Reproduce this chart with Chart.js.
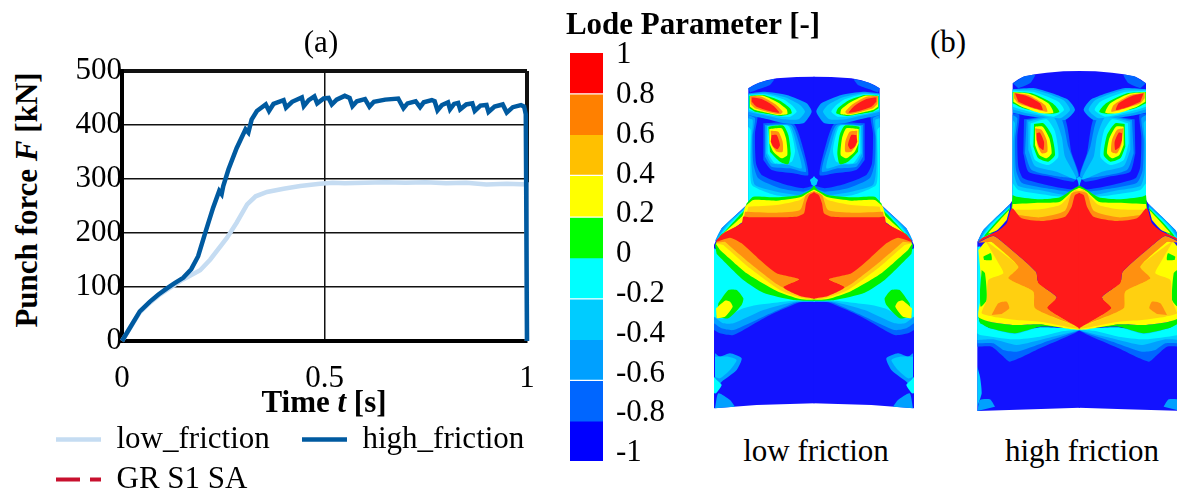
<!DOCTYPE html>
<html>
<head>
<meta charset="utf-8">
<script src="https://cdn.jsdelivr.net/npm/chart.js@4"></script>
<style>
  html, body { margin: 0; padding: 0; background: #fff; overflow: hidden; }
  body { width: 1177px; height: 493px; position: relative; font-family: "Liberation Serif", serif; color: #000; }
  canvas { position: absolute; }
  .txt { position: absolute; white-space: nowrap; font-size: 31px; line-height: 34px; transform: translate(-50%, -50%); }
  .bold { font-weight: bold; }
  #yTitle { transform: translate(-50%, -50%) rotate(-90deg); }
</style>
</head>
<body>
<canvas id="forceChart" width="510" height="450" style="left:47px;top:55px"></canvas>
<canvas id="barChart" width="113" height="435" style="left:570px;top:40px"></canvas>
<canvas id="lowChart" width="230" height="360" style="left:700px;top:60px"></canvas>
<canvas id="highChart" width="217" height="360" style="left:960px;top:60px"></canvas>
<div class="txt" style="left:321px;top:42px">(a)</div>
<div class="txt" style="left:948px;top:42px">(b)</div>
<div class="txt bold" style="left:693px;top:24px">Lode Parameter [-]</div>
<div class="txt" style="left:816px;top:451px">low friction</div>
<div class="txt" style="left:1082px;top:451px">high friction</div>
<div class="txt bold" style="left:324px;top:402px">Time <i>t</i> [s]</div>
<div class="txt bold" id="yTitle" style="left:27px;top:200px">Punch force <i>F</i> [kN]</div>
<script>
// force curves
const timeHigh = [0, .02, .044, .069, .09, .11, .13, .151, .171, .188, .207, .225, .24, .246, .25, .263, .283, .305, .312, .32, .333, .355, .363, .374, .399, .405, .42, .444, .449, .461, .475, .482, .498, .51, .518, .53, .55, .562, .569, .58, .6, .611, .622, .65, .682, .695, .705, .725, .736, .745, .765, .772, .779, .79, .805, .81, .82, .83, .835, .85, .865, .871, .885, .9, .905, .92, .94, .95, .965, .985, .993, .997, 1];
const forceHigh = [0, 25, 55, 73, 86, 97, 107, 117, 133, 157, 204, 247, 278, 272, 287, 318, 357, 392, 386, 410, 426, 438, 426, 439, 446, 432, 443, 451, 435, 446, 453, 440, 449, 450, 438, 447, 454, 450, 435, 444, 448, 434, 443, 447, 449, 431, 440, 444, 433, 442, 446, 444, 427, 437, 442, 429, 439, 441, 429, 438, 440, 426, 436, 437, 424, 434, 438, 423, 433, 437, 434, 420, 0];
const timeLow = [0, .02, .044, .069, .09, .11, .13, .151, .193, .218, .259, .283, .309, .33, .358, .399, .44, .489, .52, .55, .6, .65, .7, .75, .8, .85, .9, .95, .999, 1];
const forceLow = [0, 24, 53, 71, 84, 94, 104, 114, 131, 151, 191, 219, 253, 268, 276, 282, 287, 291, 293, 292, 293, 294, 293, 294, 292, 293, 290, 291, 290, 0];
const seriesNames = ["low_friction", "high_friction", "GR S1 SA"];
const xTicks = [0, 0.5, 1];
const yTicks = [0, 100, 200, 300, 400, 500];

// colour bar
const barTicks = [1, 0.8, 0.6, 0.4, 0.2, 0, -0.2, -0.4, -0.6, -0.8, -1];
const barTop = [1.01, 0.8, 0.6, 0.39, 0.18, -0.02, -0.23, -0.43, -0.64, -0.84];
const barBottom = [0.81, 0.6, 0.4, 0.19, -0.02, -0.22, -0.43, -0.63, -0.84, -1.04];
const barColors = ["#ff0000", "#ff8000", "#ffc000", "#ffff00", "#00ff00", "#00ffff", "#00ccff", "#00a0ff", "#0066ff", "#0000ff"];
const fieldColors = ["#1212ff", "#0066ff", "#00a0ff", "#00ccff", "#00ffff", "#00f000", "#ffff00", "#00f000", "#ffd010", "#ff9010", "#ff1a1a"];

// contour regions: left half of each specimen, the other half is the same list on a reversed axis
const lowBase = [[[145,85],[160,76],[175,69],[200,61],[230,55],[290,51],[344,50],[344,1030],[170,1035],[42,1045],[42,555],[65,505],[145,430]]];
const lowBlue2 = [
  [[145,160],[172,168],[165,220],[168,310],[185,345],[250,372],[310,385],[344,378],[344,410],[145,430]],
  [[190,190],[280,190],[305,250],[325,345],[280,340],[215,330],[190,300]],
  [[42,600],[344,725],[300,727],[200,770],[100,825],[60,820],[42,810]],
  [[145,85],[175,69],[222,58],[210,75],[175,88],[150,98]]
];
const lowMid = [
  [[145,100],[195,95],[260,105],[320,130],[335,155],[310,190],[255,190],[190,175],[145,165]],
  [[145,165],[165,175],[158,230],[160,310],[175,355],[240,385],[310,395],[344,385],[344,410],[145,432]],
  [[195,195],[275,195],[300,260],[318,335],[270,325],[215,320],[195,290]],
  [[42,600],[344,722],[290,727],[190,770],[100,810],[65,805],[42,790]],
  [[45,880],[60,890],[90,880],[125,895],[110,930],[65,965],[55,975],[45,960]],
  [[45,1045],[55,1000],[90,1020],[105,1040]],
  [[145,432],[65,505],[45,545],[70,520],[125,480],[140,450]]
];
const lowSky = [
  [[145,103],[195,100],[255,112],[300,135],[315,155],[295,178],[250,178],[190,165],[145,155]],
  [[145,175],[158,180],[155,240],[155,320],[165,375],[230,395],[300,405],[344,392],[344,415],[145,432]],
  [[200,198],[270,198],[293,270],[305,325],[265,315],[215,310],[198,280]],
  [[42,590],[344,722],[285,725],[190,750],[100,790],[70,790],[42,770]],
  [[45,890],[85,890],[110,900],[90,930],[60,955],[45,950]],
  [[330,360],[344,350],[344,378],[335,375]],
  [[143,436],[78,497],[50,540],[72,520],[125,482],[142,450]]
];
const lowCyan = [
  [[147,105],[195,103],[250,118],[280,140],[290,155],[270,170],[225,168],[180,160],[147,150]],
  [[145,200],[152,210],[151,300],[156,375],[225,405],[300,412],[335,395],[344,385],[344,415],[145,435]],
  [[203,198],[265,198],[285,270],[275,305],[225,310],[203,280]],
  [[42,565],[344,720],[280,722],[170,735],[130,745],[70,775],[42,770]],
  [[42,950],[50,960],[65,975],[48,1000],[42,1000]],
  [[142,440],[90,490],[55,535],[72,522],[127,482],[142,450]]
];
const lowGreen = [
  [[148,107],[190,105],[240,122],[270,145],[275,160],[245,168],[205,162],[165,155],[148,145]],
  [[140,430],[160,410],[230,412],[300,405],[330,390],[344,378],[344,480],[125,480]],
  [[205,200],[250,197],[265,225],[272,280],[265,312],[240,305],[210,275]],
  [[45,555],[70,520],[300,640],[344,716],[344,722],[280,720],[190,698],[130,660],[50,582]],
  [[55,730],[85,690],[110,690],[130,715],[125,735],[85,775],[50,770]],
  [[140,445],[115,470],[60,530],[72,522],[127,484],[145,455]]
];
const lowYellow = [
  [[150,108],[190,107],[235,128],[260,148],[262,162],[235,165],[200,158],[165,150],[150,140]],
  [[135,440],[160,420],[230,422],[300,412],[330,395],[344,390],[344,480],[125,480]],
  [[208,207],[245,205],[258,235],[262,285],[245,295],[220,275],[208,250]],
  [[48,552],[75,520],[300,640],[344,716],[300,717],[230,693],[140,640],[60,570]],
  [[48,745],[75,722],[90,725],[98,740],[75,770],[50,775]],
  [[140,452],[125,470],[65,526],[125,488],[148,465]]
];
const lowAmber = [
  [[145,440],[230,435],[300,420],[325,400],[344,395],[344,480],[135,480]],
  [[48,550],[80,520],[300,640],[344,716],[310,715],[240,690],[150,625],[70,555]]
];
const lowOrange = [
  [[150,108],[185,110],[225,132],[248,155],[240,163],[200,155],[165,145],[152,132]],
  [[135,455],[230,458],[300,450],[318,405],[344,395],[344,480],[130,480]],
  [[212,212],[235,215],[248,245],[248,275],[230,275],[215,255]],
  [[48,548],[90,520],[300,640],[297,658],[250,682],[300,708],[230,672],[150,610],[75,545]]
];
const lowRed = [
  [[155,112],[185,117],[220,137],[238,158],[205,152],[170,140],[155,125]],
  [[215,225],[230,225],[240,255],[232,268],[220,260],[212,245]],
  [[344,397],[328,405],[318,430],[312,460],[290,470],[150,472],[130,470],[125,490],[70,520],[48,545],[90,533],[125,550],[180,600],[230,640],[297,658],[250,682],[300,708],[344,716]]
];

const highBase = [[[158,70],[175,58],[190,50],[225,43],[260,38],[310,34],[360,33],[360,1043],[220,1048],[52,1053],[52,545],[70,510],[150,432],[158,420]]];
const highBlue2 = [
  [[158,160],[178,165],[172,230],[175,320],[190,355],[260,375],[330,388],[360,385],[360,410],[158,425]],
  [[192,178],[310,168],[335,280],[357,345],[340,365],[270,350],[205,335],[190,280]],
  [[52,810],[360,808],[240,865],[150,905],[125,885],[95,860],[52,860]],
  [[158,70],[190,50],[225,45],[210,70],[175,85]]
];
const highMid = [
  [[158,88],[225,85],[322,118],[345,150],[315,180],[205,168],[158,158]],
  [[158,165],[172,175],[165,240],[168,330],[185,368],[260,385],[330,395],[360,390],[360,410],[158,425]],
  [[200,180],[300,170],[325,260],[355,350],[300,350],[215,330],[195,280]],
  [[52,810],[360,808],[250,848],[170,875],[130,870],[100,850],[52,850]],
  [[52,1053],[60,1020],[90,1018],[105,1040]],
  [[150,432],[70,510],[54,545],[80,530],[130,480],[150,445]]
];
const highSky = [
  [[158,90],[225,90],[310,120],[330,150],[300,175],[200,160],[158,148]],
  [[158,180],[165,190],[160,250],[162,340],[175,378],[250,392],[320,405],[360,390],[360,412],[158,425]],
  [[205,185],[280,172],[305,230],[315,290],[350,358],[290,335],[225,318],[205,270]],
  [[52,805],[360,808],[260,835],[170,855],[100,838],[52,840]],
  [[52,920],[60,950],[65,1000],[52,1040]],
  [[350,355],[360,350],[360,380]],
  [[148,440],[85,498],[60,540],[80,530],[130,480],[150,445]]
];
const highCyan = [
  [[158,92],[222,96],[295,125],[312,150],[280,170],[190,150],[158,140]],
  [[158,370],[175,390],[245,403],[310,410],[340,390],[360,385],[360,412],[158,425]],
  [[212,190],[260,178],[285,215],[295,290],[265,315],[225,300],[210,250]],
  [[52,780],[90,805],[165,822],[240,802],[360,808],[300,815],[240,830],[160,838],[60,825],[52,820]],
  [[52,560],[62,560],[62,750],[55,800],[52,810]],
  [[146,445],[95,492],[65,535],[85,528],[130,482],[150,445]]
];
const highGreen = [
  [[158,96],[215,100],[278,130],[298,155],[270,162],[190,145],[158,130]],
  [[158,405],[170,410],[240,418],[300,412],[335,390],[360,378],[360,490],[150,490]],
  [[222,192],[250,190],[275,225],[285,285],[265,305],[235,295],[220,260]],
  [[55,770],[90,785],[165,795],[240,793],[360,806],[240,800],[165,820],[90,805],[60,790]],
  [[148,445],[105,490],[72,530],[110,510],[135,480],[150,445]]
];
const highYellow = [
  [[160,97],[210,102],[265,130],[280,158],[245,160],[185,140],[160,125]],
  [[158,432],[240,428],[300,425],[335,395],[360,385],[360,490],[150,490]],
  [[225,200],[248,200],[268,235],[275,280],[260,295],[238,285],[225,255]],
  [[55,570],[85,540],[180,610],[360,806],[240,793],[165,795],[90,785],[55,770],[65,700],[60,620]],
  [[148,450],[120,480],[85,520],[112,510],[140,480]]
];
const highGreenSpots = [
  [[70,590],[92,580],[95,600],[72,600]],
  [[65,630],[75,640],[80,720],[62,740],[60,690]]
];
const highAmber = [
  [[160,450],[240,448],[300,435],[325,410],[345,390],[360,395],[360,490],[175,485]],
  [[75,540],[175,620],[145,655],[220,695],[225,745],[360,806],[240,785],[170,780],[100,770],[65,760],[80,720],[85,660],[130,640],[110,600]]
];
const highOrange = [
  [[162,98],[205,105],[255,135],[262,155],[235,150],[175,130],[162,115]],
  [[175,465],[240,472],[315,452],[335,400],[360,395],[360,490],[190,482]],
  [[225,205],[245,210],[260,240],[262,275],[245,280],[232,255]],
  [[55,548],[100,528],[130,548],[228,635],[235,670],[290,712],[262,745],[360,806],[340,795],[225,745],[220,695],[145,655],[175,620],[95,545]],
  [[95,765],[115,730],[140,725],[148,745],[125,762]]
];
const highRed = [
  [[165,100],[200,108],[240,130],[248,150],[215,142],[175,125]],
  [[230,220],[240,218],[252,245],[250,270],[238,262],[230,240]],
  [[360,398],[345,405],[335,440],[315,470],[245,483],[185,475],[158,445],[152,450],[140,490],[115,512],[70,532],[55,545],[100,527],[130,548],[228,635],[235,670],[290,712],[262,745],[360,806]]
];

const lowLevels = [lowBase, lowBlue2, lowMid, lowSky, lowCyan, lowGreen, lowYellow, [], lowAmber, lowOrange, lowRed];
const highLevels = [highBase, highBlue2, highMid, highSky, highCyan, highGreen, highYellow, highGreenSpots, highAmber, highOrange, highRed];

const serif = "'Liberation Serif', serif";
Chart.defaults.animation = false;
Chart.defaults.responsive = false;
Chart.defaults.devicePixelRatio = 1;
Chart.defaults.color = "#000";

function pairs(xs, ys) {
  return xs.map((x, i) => ({ x: x, y: ys[i] }));
}

new Chart(document.getElementById("forceChart"), {
  type: "scatter",
  data: {
    datasets: [
      { label: seriesNames[0], data: pairs(timeLow, forceLow), showLine: true, borderColor: "#c5dcf2", borderWidth: 4.5, pointRadius: 0, order: 1, clip: false },
      { label: seriesNames[1], data: pairs(timeHigh, forceHigh), showLine: true, borderColor: "#005aa0", borderWidth: 4.5, pointRadius: 0, order: 0, clip: false },
      { label: seriesNames[2], data: [], showLine: true, borderColor: "#c8102e", borderWidth: 4, borderDash: [24, 10], pointRadius: 0 }
    ]
  },
  options: {
    layout: { padding: { top: 16 } },
    plugins: {
      tooltip: { enabled: false },
      legend: {
        position: "bottom",
        align: "start",
        labels: {
          font: { family: serif, size: 31 },
          padding: 9,
          usePointStyle: true,
          pointStyleWidth: 45,
          generateLabels(chart) {
            return chart.data.datasets.map((d, i) => ({
              // extra gap after the first entry, same as the reference row
              text: i === 0 ? d.label + "\u2002\u2005" : d.label,
              strokeStyle: d.borderColor,
              fillStyle: d.borderColor,
              lineWidth: d.borderWidth,
              lineDash: d.borderDash,
              pointStyle: "line",
              datasetIndex: i
            }));
          }
        }
      }
    },
    scales: {
      x: {
        type: "linear", min: 0, max: 1,
        afterBuildTicks(s) { s.ticks = xTicks.map(v => ({ value: v })); },
        afterFit(s) { s.height = 74; s.paddingLeft = 0; s.paddingRight = 0; },
        border: { width: 4, color: "#000" },
        grid: { drawTicks: false, color: "#111", lineWidth: c => (c.tick && c.tick.value === 1 ? 4 : 1.5) },
        ticks: { font: { family: serif, size: 31 }, padding: 19, maxRotation: 0, callback: v => String(v) }
      },
      y: {
        min: 0, max: 500,
        afterBuildTicks(s) { s.ticks = yTicks.map(v => ({ value: v })); },
        afterFit(s) { s.width = 75; s.paddingTop = 0; s.paddingBottom = 0; },
        border: { width: 4, color: "#000" },
        grid: { drawTicks: false, color: "#111", lineWidth: c => (c.tick && c.tick.value === 500 ? 4 : 1.5) },
        ticks: { font: { family: serif, size: 31 }, padding: 0, callback: v => String(v) }
      },
      // blank axis that keeps the plot clear of the right edge while the legend keeps the full width
      spare: {
        position: "right",
        afterFit(s) { s.width = 30; s.paddingTop = 0; s.paddingBottom = 0; },
        border: { display: false },
        grid: { display: false },
        ticks: { display: false }
      }
    }
  }
});

new Chart(document.getElementById("barChart"), {
  type: "bar",
  data: {
    labels: [""],
    datasets: barTop.map((t, i) => ({
      data: [[barBottom[i], t]],
      backgroundColor: barColors[i],
      grouped: false,
      barPercentage: 1,
      categoryPercentage: 1
    }))
  },
  options: {
    layout: { padding: { top: 13, bottom: 14 } },
    plugins: { legend: { display: false }, tooltip: { enabled: false } },
    scales: {
      x: { display: false },
      y: {
        position: "right",
        min: -1.04, max: 1.01,
        afterBuildTicks(s) { s.ticks = barTicks.map(v => ({ value: v })); },
        afterFit(s) { s.width = 80; s.paddingTop = 0; s.paddingBottom = 0; },
        border: { display: false },
        grid: { display: false, drawTicks: false },
        ticks: { font: { family: serif, size: 31 }, padding: 13, autoSkip: false, callback: v => String(v) }
      }
    }
  }
});

// one specimen: every region twice, plain axis for the left half, reversed axis for the right
function drawField(id, levels, width, height, centre) {
  const datasets = [];
  levels.forEach((regions, level) => {
    regions.forEach(region => {
      ["x", "xr"].forEach(axis => {
        datasets.push({
          data: region.map(p => ({ x: p[0], y: p[1] })),
          xAxisID: axis,
          showLine: true,
          fill: "shape",
          backgroundColor: fieldColors[level],
          tension: level === 0 ? 0 : 0.2,
          borderWidth: 0,
          pointRadius: 0
        });
      });
    });
  });
  new Chart(document.getElementById(id), {
    type: "scatter",
    data: { datasets: datasets.reverse() },
    options: {
      plugins: { legend: { display: false }, tooltip: { enabled: false } },
      scales: {
        x: { display: false, type: "linear", min: 0, max: width },
        xr: { display: false, type: "linear", reverse: true, min: centre * 2 - width, max: centre * 2 },
        y: { display: false, type: "linear", reverse: true, min: 0, max: height }
      }
    }
  });
}
drawField("lowChart", lowLevels, 690, 1080, 342);
drawField("highChart", highLevels, 651, 1080, 358);
</script>
</body>
</html>
